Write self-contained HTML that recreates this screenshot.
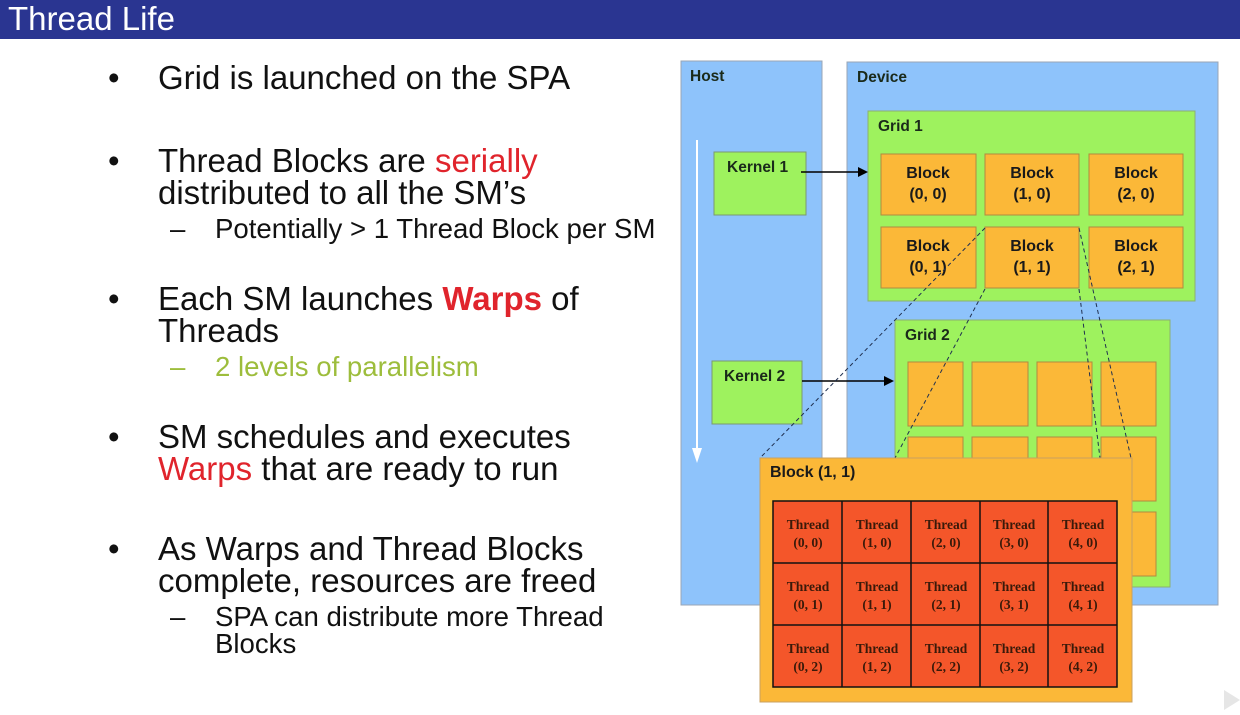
<!DOCTYPE html>
<html><head><meta charset="utf-8"><style>
body{margin:0;width:1240px;height:715px;background:#fff;position:relative;overflow:hidden;font-family:"Liberation Sans",sans-serif}
.bar{position:absolute;left:0;top:0;width:1240px;height:39px;background:#2a3591}
.ttl{position:absolute;left:8px;top:1px;color:#fff;font-size:33px;line-height:36px}
.t{position:absolute;font-size:33px;line-height:31.5px;color:#111;white-space:nowrap}
.s{position:absolute;font-size:27.6px;line-height:28px;color:#111;white-space:nowrap}
.r{color:#e0242c}
</style></head><body>
<div class="bar"></div><div class="ttl">Thread Life</div>
<div class="t" style="left:108px;top:62px">•</div><div class="t" style="left:158px;top:62px">Grid is launched on the SPA</div>
<div class="t" style="left:108px;top:145px">•</div><div class="t" style="left:158px;top:145px">Thread Blocks are <span class="r">serially</span><br>distributed to all the SM’s</div>
<div class="s" style="left:170px;top:215px">–</div><div class="s" style="left:215px;top:215px">Potentially &gt; 1 Thread Block per SM</div>
<div class="t" style="left:108px;top:283px">•</div><div class="t" style="left:158px;top:283px">Each SM launches <b class="r">Warps</b> of<br>Threads</div>
<div class="s" style="left:170px;top:353px;color:#9dbd3c">–</div><div class="s" style="left:215px;top:353px;color:#9dbd3c">2 levels of parallelism</div>
<div class="t" style="left:108px;top:421px">•</div><div class="t" style="left:158px;top:421px">SM schedules and executes<br><span class="r">Warps</span> that are ready to run</div>
<div class="t" style="left:108px;top:533px">•</div><div class="t" style="left:158px;top:533px">As Warps and Thread Blocks<br>complete, resources are freed</div>
<div class="s" style="left:170px;top:603px">–</div><div class="s" style="left:215px;top:603px;line-height:27px">SPA can distribute more Thread<br>Blocks</div>
<svg style="position:absolute;left:0;top:0" width="1240" height="715" font-family="Liberation Sans,sans-serif">
<g stroke="#9aa6b4" stroke-width="1">
<rect x="681" y="61" width="141" height="544" fill="#8ec3fb"/>
<rect x="847" y="62" width="371" height="543" fill="#8ec3fb"/>
<rect x="868" y="111" width="327" height="190" fill="#9ef25e" stroke="#8cb070"/>
<rect x="714" y="152" width="92" height="63" fill="#9ef25e" stroke="#7a9a70"/>
<rect x="712" y="361" width="90" height="63" fill="#9ef25e" stroke="#7a9a70"/>
<rect x="895" y="320" width="275" height="267" fill="#9ef25e" stroke="#8cb070"/>
</g>
<g font-weight="bold" font-size="15.5" fill="#1a2a1a">
<text x="690" y="81">Host</text><text x="857" y="82">Device</text>
<text x="878" y="131">Grid 1</text><text x="905" y="340">Grid 2</text>
<text x="727" y="172">Kernel 1</text><text x="724" y="381">Kernel 2</text>
</g>
<line x1="697" y1="140" x2="697" y2="450" stroke="#fff" stroke-width="2"/>
<polygon points="692,448 702,448 697,463" fill="#fff"/>
<line x1="801" y1="172" x2="860" y2="172" stroke="#000" stroke-width="1.5"/><polygon points="858,167 868,172 858,177" fill="#000"/>
<line x1="802" y1="381" x2="886" y2="381" stroke="#000" stroke-width="1.5"/><polygon points="884,376 894,381 884,386" fill="#000"/>
<g fill="#fbb838" stroke="#b08a40">
<rect x="881" y="154" width="95" height="61"/><rect x="985" y="154" width="94" height="61"/><rect x="1089" y="154" width="94" height="61"/>
<rect x="881" y="227" width="95" height="61"/><rect x="985" y="227" width="94" height="61"/><rect x="1089" y="227" width="94" height="61"/>
<rect x="908" y="362" width="55" height="64"/><rect x="972" y="362" width="56" height="64"/><rect x="1037" y="362" width="55" height="64"/><rect x="1101" y="362" width="55" height="64"/>
<rect x="908" y="437" width="55" height="64"/><rect x="972" y="437" width="56" height="64"/><rect x="1037" y="437" width="55" height="64"/><rect x="1101" y="437" width="55" height="64"/>
<rect x="908" y="512" width="55" height="64"/><rect x="972" y="512" width="56" height="64"/><rect x="1037" y="512" width="55" height="64"/><rect x="1101" y="512" width="55" height="64"/>
</g>
<g font-weight="bold" font-size="16" fill="#1a1a1a" text-anchor="middle">
<text x="928" y="178">Block</text><text x="928" y="199">(0, 0)</text>
<text x="1032" y="178">Block</text><text x="1032" y="199">(1, 0)</text>
<text x="1136" y="178">Block</text><text x="1136" y="199">(2, 0)</text>
<text x="928" y="251">Block</text><text x="928" y="272">(0, 1)</text>
<text x="1032" y="251">Block</text><text x="1032" y="272">(1, 1)</text>
<text x="1136" y="251">Block</text><text x="1136" y="272">(2, 1)</text>
</g>
<g stroke="#203050" stroke-dasharray="4,3" stroke-width="1">
<line x1="985" y1="228" x2="760" y2="458"/><line x1="985" y1="289" x2="895" y2="458"/>
<line x1="1079" y1="228" x2="1131" y2="458"/><line x1="1079" y1="289" x2="1100" y2="458"/>
</g>
<rect x="760" y="458" width="372" height="244" fill="#fbb838" stroke="#c8a060"/>
<text x="770" y="477" font-weight="bold" font-size="16" fill="#1a1a1a">Block (1, 1)</text>
<rect x="773" y="501" width="344" height="186" fill="#f4562a" stroke="#111" stroke-width="1.5"/>
<g stroke="#111" stroke-width="1.5">
<line x1="842" y1="501" x2="842" y2="687"/><line x1="911" y1="501" x2="911" y2="687"/><line x1="980" y1="501" x2="980" y2="687"/><line x1="1048" y1="501" x2="1048" y2="687"/>
<line x1="773" y1="563" x2="1117" y2="563"/><line x1="773" y1="625" x2="1117" y2="625"/>
</g>
<g font-family="Liberation Serif,serif" font-weight="bold" font-size="13.5" fill="#3a1a0a" text-anchor="middle">
<text x="808" y="529">Thread</text><text x="808" y="547">(0, 0)</text>
<text x="877" y="529">Thread</text><text x="877" y="547">(1, 0)</text>
<text x="946" y="529">Thread</text><text x="946" y="547">(2, 0)</text>
<text x="1014" y="529">Thread</text><text x="1014" y="547">(3, 0)</text>
<text x="1083" y="529">Thread</text><text x="1083" y="547">(4, 0)</text>
<text x="808" y="591">Thread</text><text x="808" y="609">(0, 1)</text>
<text x="877" y="591">Thread</text><text x="877" y="609">(1, 1)</text>
<text x="946" y="591">Thread</text><text x="946" y="609">(2, 1)</text>
<text x="1014" y="591">Thread</text><text x="1014" y="609">(3, 1)</text>
<text x="1083" y="591">Thread</text><text x="1083" y="609">(4, 1)</text>
<text x="808" y="653">Thread</text><text x="808" y="671">(0, 2)</text>
<text x="877" y="653">Thread</text><text x="877" y="671">(1, 2)</text>
<text x="946" y="653">Thread</text><text x="946" y="671">(2, 2)</text>
<text x="1014" y="653">Thread</text><text x="1014" y="671">(3, 2)</text>
<text x="1083" y="653">Thread</text><text x="1083" y="671">(4, 2)</text>
</g>
<polygon points="1224,690 1240,700 1224,710" fill="#e6e6e6"/>
</svg>
</body></html>
